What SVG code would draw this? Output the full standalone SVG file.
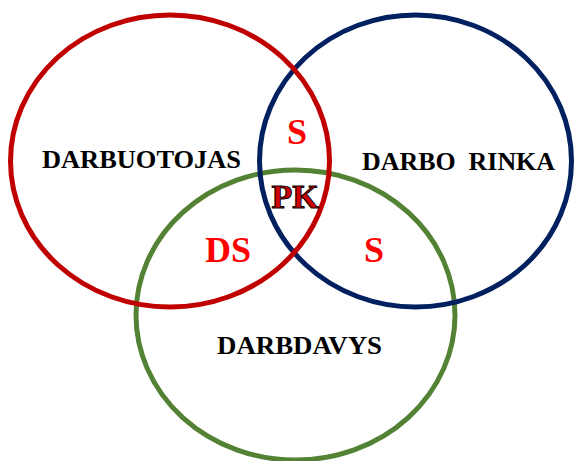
<svg xmlns="http://www.w3.org/2000/svg" width="574" height="461" viewBox="0 0 574 461">
<style>
.ring{fill:none;stroke-width:5}
.lbl{font-family:"Liberation Serif","Times New Roman",serif;font-weight:bold;fill:#000;font-size:26px}
.rel{font-family:"Liberation Serif","Times New Roman",serif;font-weight:bold;fill:#FF0000;font-size:36px}
</style>
<rect width="574" height="461" fill="#fff"/>
<g id="darbdavys">
<ellipse class="ring" cx="295.5" cy="315" rx="159.5" ry="145" stroke="#548235"/>
<text class="lbl" x="217" y="354" textLength="165" lengthAdjust="spacingAndGlyphs">DARBDAVYS</text>
</g>
<g id="darbo-rinka">
<ellipse class="ring" cx="415.5" cy="161" rx="156" ry="146" stroke="#002060"/>
<text class="lbl" x="362" y="170" textLength="193" lengthAdjust="spacingAndGlyphs" xml:space="preserve">DARBO  RINKA</text>
</g>
<g id="darbuotojas">
<ellipse class="ring" cx="170" cy="161" rx="159.5" ry="146" stroke="#C00000"/>
<text class="lbl" x="42" y="168" textLength="199" lengthAdjust="spacingAndGlyphs">DARBUOTOJAS</text>
</g>
<g id="labels">
<text class="rel" x="297" y="144" text-anchor="middle">S</text>
<text class="rel" x="228" y="262" text-anchor="middle">DS</text>
<text class="rel" x="374" y="262" text-anchor="middle">S</text>
<text x="295" y="208" text-anchor="middle" font-family="Liberation Serif, serif" font-weight="bold" font-size="34" fill="#D00000" stroke="#000" stroke-width="1">PK</text>
</g>
</svg>
